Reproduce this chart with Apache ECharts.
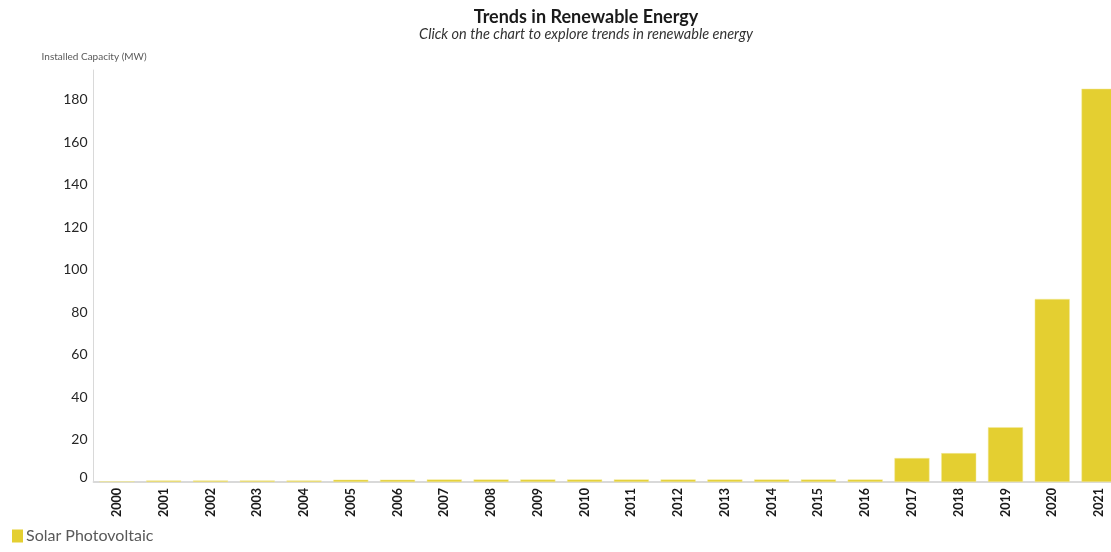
<!DOCTYPE html>
<html>
<head>
<meta charset="utf-8">
<script src="https://cdn.jsdelivr.net/npm/echarts@6/dist/echarts.min.js"></script>
<style>html,body{margin:0;padding:0;background:#fff}#c{width:1111px;height:552px}</style>
</head>
<body>
<div id="c"></div>
<script>
const years = ['2000','2001','2002','2003','2004','2005','2006','2007','2008','2009','2010','2011','2012','2013','2014','2015','2016','2017','2018','2019','2020','2021'];
const solarPV = [0.3,0.7,0.7,0.7,0.7,1.1,1.1,1.2,1.2,1.2,1.2,1.2,1.2,1.2,1.2,1.2,1.2,11.3,13.6,25.8,86.2,185.2];
const seriesName = 'Solar Photovoltaic';
const titleText = 'Trends in Renewable Energy';
const subtitleText = 'Click on the chart to explore trends in renewable energy';
const yAxisTitle = 'Installed Capacity (MW)';

const FONT = 'Lato, "Open Sans", sans-serif';
const chart = echarts.init(document.getElementById('c'));
chart.setOption({
  animation: false,
  backgroundColor: '#fff',
  title: {
    text: titleText,
    subtext: subtitleText,
    left: 581,
    textAlign: 'center',
    top: 3,
    itemGap: 1,
    textStyle: {fontFamily: FONT, fontSize: 18, fontWeight: 'bold', color: '#1a1a1a'},
    subtextStyle: {fontFamily: FONT, fontSize: 14.5, fontStyle: 'italic', color: '#333'}
  },
  legend: {
    left: 7,
    bottom: 3,
    itemWidth: 11,
    itemHeight: 13,
    itemGap: 4,
    icon: 'rect',
    itemStyle: {borderWidth: 0},
    textStyle: {fontFamily: FONT, fontSize: 16, color: '#595959', padding: [0,0,0,-2]},
    data: [seriesName]
  },
  grid: {left: 93.6, right: -11.4, top: 70, bottom: 70, containLabel: false, outerBoundsMode: 'none'},
  xAxis: {
    type: 'category',
    data: years,
    axisLine: {lineStyle: {color: '#d9d9d9', width: 2}},
    axisTick: {show: false},
    axisLabel: {rotate: 90, interval: 0, fontFamily: FONT, fontSize: 12.5, fontWeight: 'bold', color: '#1a1a1a', margin: 6}
  },
  yAxis: {
    type: 'value',
    min: 0,
    max: 194,
    interval: 20,
    name: yAxisTitle,
    nameLocation: 'end',
    nameGap: 8,
    nameTextStyle: {fontFamily: FONT, fontSize: 10, color: '#595959', align: 'left', padding: [0,0,0,-52]},
    axisLine: {show: true, lineStyle: {color: '#d9d9d9', width: 1}},
    axisTick: {show: false},
    splitLine: {show: false},
    axisLabel: {
      showMaxLabel: false,
      fontFamily: FONT, fontSize: 14, color: '#262626', margin: 6,
      formatter: v => v === 0 ? '{z|0}' : (v % 20 === 0 ? String(v) : ''),
      rich: {z: {fontFamily: FONT, fontSize: 14, color: '#262626', padding: [0,0,10,0]}}
    }
  },
  series: [{
    name: seriesName,
    type: 'bar',
    data: solarPV,
    barCategoryGap: '25%',
    itemStyle: {color: '#e4cf31', borderColor: '#f3eaa0', borderWidth: 0.5}
  }]
});
</script>
</body>
</html>
